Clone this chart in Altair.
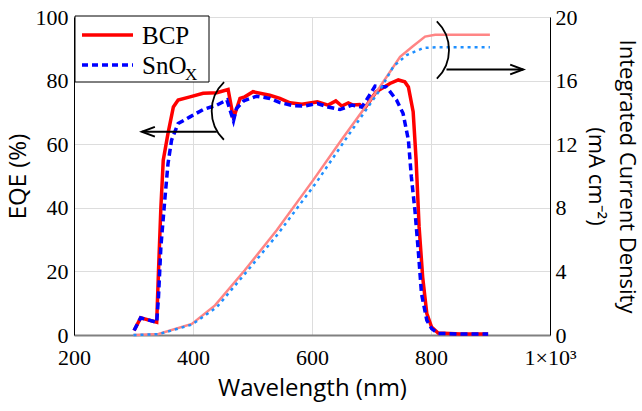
import altair as alt
import pandas as pd

# ---- data ----
bcp_wl = [301, 312, 339, 342, 346, 350, 358, 367, 375, 395, 417, 440, 459, 468, 479, 487, 501, 529, 546,
          563, 583, 609, 627, 640, 650, 661, 669, 680, 688, 708, 731, 745, 756, 762, 770, 775, 780, 786,
          793, 801, 812, 850, 896]
bcp_eqe = [1.4, 5.4, 4.0, 20, 40, 55, 63.4, 71.7, 73.9, 74.9, 76, 76.2, 77.2, 68.1, 74.4, 74.9, 76.5, 75.4, 74.4,
           73, 72.6, 73.3, 72.3, 73.6, 72, 73, 72.3, 72.5, 71.2, 76.5, 79.1, 80.2, 79.6, 78, 70.2, 55, 34, 18.2,
           6.7, 2.5, 0.6, 0.3, 0.3]

sno_wl = [301, 312, 339, 342, 346, 353, 358, 364, 375, 395, 417, 440, 457, 468, 473, 485, 507, 529, 546,
          569, 588, 609, 627, 647, 667, 684, 695, 706, 725, 742, 753, 762, 767, 773, 779, 784, 793, 801,
          812, 850, 896]
sno_eqe = [1.4, 5.4, 4.0, 12, 27.7, 43.4, 53.9, 61.3, 66.5, 68.6, 70.9, 72.3, 73.9, 67.3, 71.2, 73.6, 75.1, 74.4,
           73.1, 72.1, 72, 72.8, 71.7, 70.9, 72.3, 71.7, 74.9, 78.3, 78, 73.9, 69.7, 61.3, 49.7, 39.2, 25.6, 13,
           4.6, 2, 0.5, 0.3, 0.3]

bcp_j_wl = [300, 342, 398, 437, 487, 541, 602, 650, 714, 748, 769, 790, 807, 850, 899]
bcp_j = [0, 0.07, 0.7, 1.86, 4.07, 6.6, 9.74, 12.3, 15.6, 17.5, 18.15, 18.77, 18.88, 18.88, 18.88]

sno_j_wl = [300, 342, 398, 440, 485, 541, 608, 660, 714, 737, 759, 787, 810, 899]
sno_j = [0, 0.05, 0.65, 1.75, 3.75, 6.27, 9.63, 12.5, 15.4, 16.9, 17.6, 18.05, 18.1, 18.1]

x_ticks = [200, 400, 600, 800, 1000]
eqe_ticks = [0, 20, 40, 60, 80, 100]
j_ticks = [0, 4, 8, 12, 16, 20]

# annotation arrows (data coordinates: wavelength, EQE)
arrow_wl_start = [440, 826]
arrow_wl_end = [314, 955]
arrow_eqe = [63.9, 83.5]
arrow_head_wl = [325, 944]

SERIF = "Liberation Serif"
SANS = "Open Sans"

x_scale = alt.Scale(domain=[200, 1000], nice=False, zero=False)
x_axis = alt.Axis(values=x_ticks, title="Wavelength (nm)",
                  labelExpr="datum.value == 1000 ? '1×10³' : datum.value",
                  grid=True, ticks=False, domainColor="#808080", domainWidth=2,
                  labelFont=SERIF, labelFontSize=22, labelColor="black", labelPadding=12,
                  titleFont=SANS, titleFontSize=24, titleFontWeight="normal", titleColor="black",
                  titlePadding=8, labelFlush=False)
yl_scale = alt.Scale(domain=[0, 100], nice=False)
yl_axis = alt.Axis(values=eqe_ticks, title="EQE (%)", orient="left", grid=True, ticks=False,
                   domainColor="black", labelFont=SERIF, labelFontSize=22, labelColor="black",
                   labelPadding=6, titleFont=SANS, titleFontSize=24, titleFontWeight="normal",
                   titleColor="black", titlePadding=5)
yr_scale = alt.Scale(domain=[0, 20], nice=False)
yr_axis = alt.Axis(values=j_ticks, title=["Integrated Current Density", "(mA cm⁻²)"], orient="right",
                   grid=False, ticks=False, domainColor="black", labelFont=SERIF, labelFontSize=22,
                   labelColor="black", labelPadding=5, titleFont=SANS, titleFontSize=22,
                   titleFontWeight="normal", titleColor="black", titlePadding=6, titleLineHeight=31)

df_bcp = pd.DataFrame({"wl": bcp_wl, "eqe": bcp_eqe})
df_sno = pd.DataFrame({"wl": sno_wl, "eqe": sno_eqe})
df_bcp_j = pd.DataFrame({"wl": bcp_j_wl, "j": bcp_j})
df_sno_j = pd.DataFrame({"wl": sno_j_wl, "j": sno_j})
df_arrow = pd.DataFrame({"wl": arrow_wl_start, "wl2": arrow_wl_end, "eqe": arrow_eqe,
                         "head": arrow_head_wl})
one = pd.DataFrame({"a": [0]})

X = alt.X("wl:Q", scale=x_scale, axis=x_axis)
YL = alt.Y("eqe:Q", scale=yl_scale, axis=yl_axis)

eqe_bcp = alt.Chart(df_bcp).mark_line(color="#ff0000", strokeWidth=3.5).encode(x=X, y=YL)
eqe_sno = alt.Chart(df_sno).mark_line(color="#0000ff", strokeWidth=3.5, strokeDash=[7, 4]).encode(x=X, y=YL)
arrow_shaft = alt.Chart(df_arrow).mark_rule(color="black", strokeWidth=2).encode(
    x=X, x2="wl2:Q", y=YL)
left_head = alt.Chart(df_arrow.iloc[[0]]).mark_point(
    shape="M1,-0.75L-1,0L1,0.75", size=169, filled=False, color="black", strokeWidth=2, opacity=1).encode(
    x=alt.X("head:Q", scale=x_scale, axis=x_axis), y=YL)
right_head = alt.Chart(df_arrow.iloc[[1]]).mark_point(
    shape="M-1,-0.75L1,0L-1,0.75", size=169, filled=False, color="black", strokeWidth=2, opacity=1).encode(
    x=alt.X("head:Q", scale=x_scale, axis=x_axis), y=YL)

left_group = alt.layer(eqe_bcp, eqe_sno, arrow_shaft, left_head, right_head)

YR = alt.Y("j:Q", scale=yr_scale, axis=yr_axis)
j_bcp = alt.Chart(df_bcp_j).mark_line(color="#ff8585", strokeWidth=2.5).encode(x=X, y=YR)
j_sno = alt.Chart(df_sno_j).mark_line(color="#1e8fff", strokeWidth=2.5, strokeDash=[3, 4]).encode(x=X, y=YR)
right_group = alt.layer(j_bcp, j_sno)

# bracket arcs
arc_left = alt.Chart(one).mark_arc(theta=3.91, theta2=5.52, radius=40, radius2=40, stroke="black",
                                   strokeWidth=1.8, fillOpacity=0).encode(
    x=alt.value(177.7), y=alt.value(94))
arc_right = alt.Chart(one).mark_arc(theta=0.77, theta2=2.37, radius=40, radius2=40, stroke="black",
                                    strokeWidth=1.8, fillOpacity=0).encode(
    x=alt.value(335), y=alt.value(33))

# legend
leg_box = alt.Chart(one).mark_rect(fill="white", stroke="black", strokeWidth=1).encode(
    x=alt.value(1), x2=alt.value(135), y=alt.value(-1), y2=alt.value(65))
leg_l1 = alt.Chart(one).mark_rule(color="#ff0000", strokeWidth=3.5).encode(
    x=alt.value(8), x2=alt.value(59), y=alt.value(18))
leg_l2 = alt.Chart(one).mark_rule(color="#0000ff", strokeWidth=3.5, strokeDash=[6, 4]).encode(
    x=alt.value(8), x2=alt.value(59), y=alt.value(48))
leg_t1 = alt.Chart(one).mark_text(text="BCP", font=SERIF, fontSize=25, align="left",
                                  baseline="middle", color="black").encode(
    x=alt.value(68), y=alt.value(19))
leg_t2 = alt.Chart(one).mark_text(text="SnO", font=SERIF, fontSize=25, align="left",
                                  baseline="middle", color="black").encode(
    x=alt.value(68), y=alt.value(49))
leg_t3 = alt.Chart(one).mark_text(text="X", font=SERIF, fontSize=17, align="left",
                                  baseline="middle", color="black").encode(
    x=alt.value(111), y=alt.value(58))

chart = alt.layer(left_group, right_group, arc_left, arc_right,
                  leg_box, leg_l1, leg_l2, leg_t1, leg_t2, leg_t3).resolve_scale(
    y="independent"
).properties(
    width=476, height=318, autosize="none",
    padding={"left": 74, "top": 17, "right": 92, "bottom": 76}
).configure_view(stroke="black", strokeWidth=1).configure_axis(
    gridColor="#c8c8c8", gridWidth=1
).configure(background="white")

chart.save("out.html", embed_options={"renderer": "svg", "actions": False})
